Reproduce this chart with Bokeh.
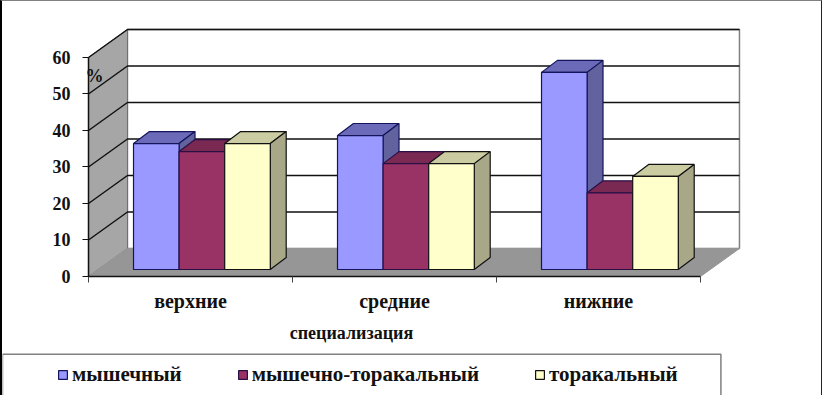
from bokeh.plotting import figure
from bokeh.embed import file_html
from bokeh.resources import INLINE
from bokeh.models import Range1d, FixedTicker, Label, Legend, LegendItem

categories = ["верхние", "средние", "нижние"]
series_names = ["мышечный", "мышечно-торакальный", "торакальный"]
muscular = [34.5, 36.7, 54.0]
muscular_thoracic = [32.3, 29.0, 21.0]
thoracic = [34.5, 29.0, 25.5]
y_ticks = [0, 10, 20, 30, 40, 50, 60]
y_label = "%"
x_title = "специализация"

FONT = "Liberation Serif"
WALL_DX, WALL_DY = 0.191, 7.67
BAR_DX, BAR_DY = 0.078, 3.29
BASE = 1.92
BAR_W = 0.2235
START = 0.2206
YMAX = 60
X0, X1 = -0.4216, 3.6078
Y0, Y1 = -32.88, 75.34

p = figure(width=822, height=395, output_backend="svg", toolbar_location=None,
           x_range=Range1d(X0, X1), y_range=Range1d(Y0, Y1),
           min_border=0,
           background_fill_color="white", border_fill_color="white", outline_line_color=None)
p.styles = {"border-left": "2px solid #000000", "border-top": "1px solid #808080",
            "border-right": "1px solid #222222"}
p.grid.visible = False

# walls and floor
p.patch([WALL_DX, 3 + WALL_DX, 3 + WALL_DX, WALL_DX],
        [WALL_DY, WALL_DY, YMAX + WALL_DY, YMAX + WALL_DY],
        fill_color="white", line_color="#808080", line_width=1.5)
p.patch([0, WALL_DX, WALL_DX, 0], [0, WALL_DY, YMAX + WALL_DY, YMAX],
        fill_color="#A6A6A6", line_color="#707070", line_width=1)
p.patch([0, 3, 3 + WALL_DX, WALL_DX], [0, 0, WALL_DY, WALL_DY],
        fill_color="#969696", line_color="#969696", line_width=1)
grid = [v for v in y_ticks if v > 0]
p.multi_line([[0, WALL_DX, 3 + WALL_DX] for _ in grid],
             [[v, v + WALL_DY, v + WALL_DY] for v in grid],
             line_color="#111111", line_width=1.5)

# bars
styles = [
    (muscular, "#9999FF", "#6A6AB8", "#62629E", "#14145C"),
    (muscular_thoracic, "#993366", "#7A2952", "#6E2549", "#2A0F45"),
    (thoracic, "#FFFFCC", "#CCCCA3", "#A8A888", "#111111"),
]
renderers = []
for s, (vals, front, top, side, edge) in enumerate(styles):
    lefts = [i + START + s * BAR_W for i in range(len(vals))]
    rights = [x + BAR_W for x in lefts]
    tops = [BASE + v for v in vals]
    p.patches([[l, r, r + BAR_DX, l + BAR_DX] for l, r in zip(lefts, rights)],
              [[t, t, t + BAR_DY, t + BAR_DY] for t in tops],
              fill_color=top, line_color=edge, line_width=1.2)
    p.patches([[r, r + BAR_DX, r + BAR_DX, r] for r in rights],
              [[BASE, BASE + BAR_DY, t + BAR_DY, t] for t in tops],
              fill_color=side, line_color=edge, line_width=1.2)
    renderers.append(p.quad(left=lefts, right=rights, bottom=[BASE] * len(vals), top=tops,
                            fill_color=front, line_color=edge, line_width=1.2))

# axes
ya = p.yaxis[0]
ya.fixed_location = 0
ya.ticker = FixedTicker(ticks=y_ticks)
ya.bounds = (0, YMAX)
ya.major_tick_in = 0
ya.major_tick_out = 6
ya.minor_tick_line_color = None
ya.major_label_standoff = 12
ya.major_label_text_font = FONT
ya.major_label_text_font_style = "bold"
ya.major_label_text_font_size = "18px"
ya.major_label_text_color = "#111111"
ya.axis_line_color = "#111111"
ya.axis_line_width = 1.5
ya.major_tick_line_color = "#111111"

centers = [i + 0.5 for i in range(len(categories))]
xa = p.xaxis[0]
xa.fixed_location = 0
xa.ticker = FixedTicker(ticks=centers, minor_ticks=[0, 1, 2, 3])
xa.major_label_overrides = dict(zip(centers, categories))
xa.bounds = (0, 3)
xa.major_tick_line_color = None
xa.minor_tick_in = 0
xa.minor_tick_out = 6
xa.minor_tick_line_color = "#444444"
xa.major_label_standoff = 8
xa.major_label_text_font = FONT
xa.major_label_text_font_style = "bold"
xa.major_label_text_font_size = "20px"
xa.major_label_text_color = "#111111"
xa.axis_line_color = "#111111"
xa.axis_line_width = 1.5

p.add_layout(Label(x=-0.015, y=55.0, text=y_label, text_font=FONT, text_font_style="bold",
                   text_font_size="18px", text_color="#111111", text_baseline="middle"))
p.add_layout(Label(x=1.289, y=-15.5, text=x_title, text_font=FONT, text_font_style="bold",
                   text_font_size="18px", text_color="#111111", text_align="center",
                   text_baseline="middle"))

# legend frame
p.quad(left=[X0], right=[3.1], bottom=[Y0], top=[-21.3], fill_color="white",
       line_color="#808080", line_width=1.5)
legend = Legend(items=[LegendItem(label=n, renderers=[r]) for n, r in zip(series_names, renderers)],
                orientation="horizontal", location=(55, 9),
                label_text_font=FONT, label_text_font_style="bold", label_text_font_size="21px",
                label_text_color="#111111", glyph_width=11, glyph_height=11,
                spacing=55, padding=10, margin=0, label_standoff=4,
                border_line_color=None, background_fill_alpha=0)
p.add_layout(legend)

open("out.html", "w").write(file_html(p, INLINE))
